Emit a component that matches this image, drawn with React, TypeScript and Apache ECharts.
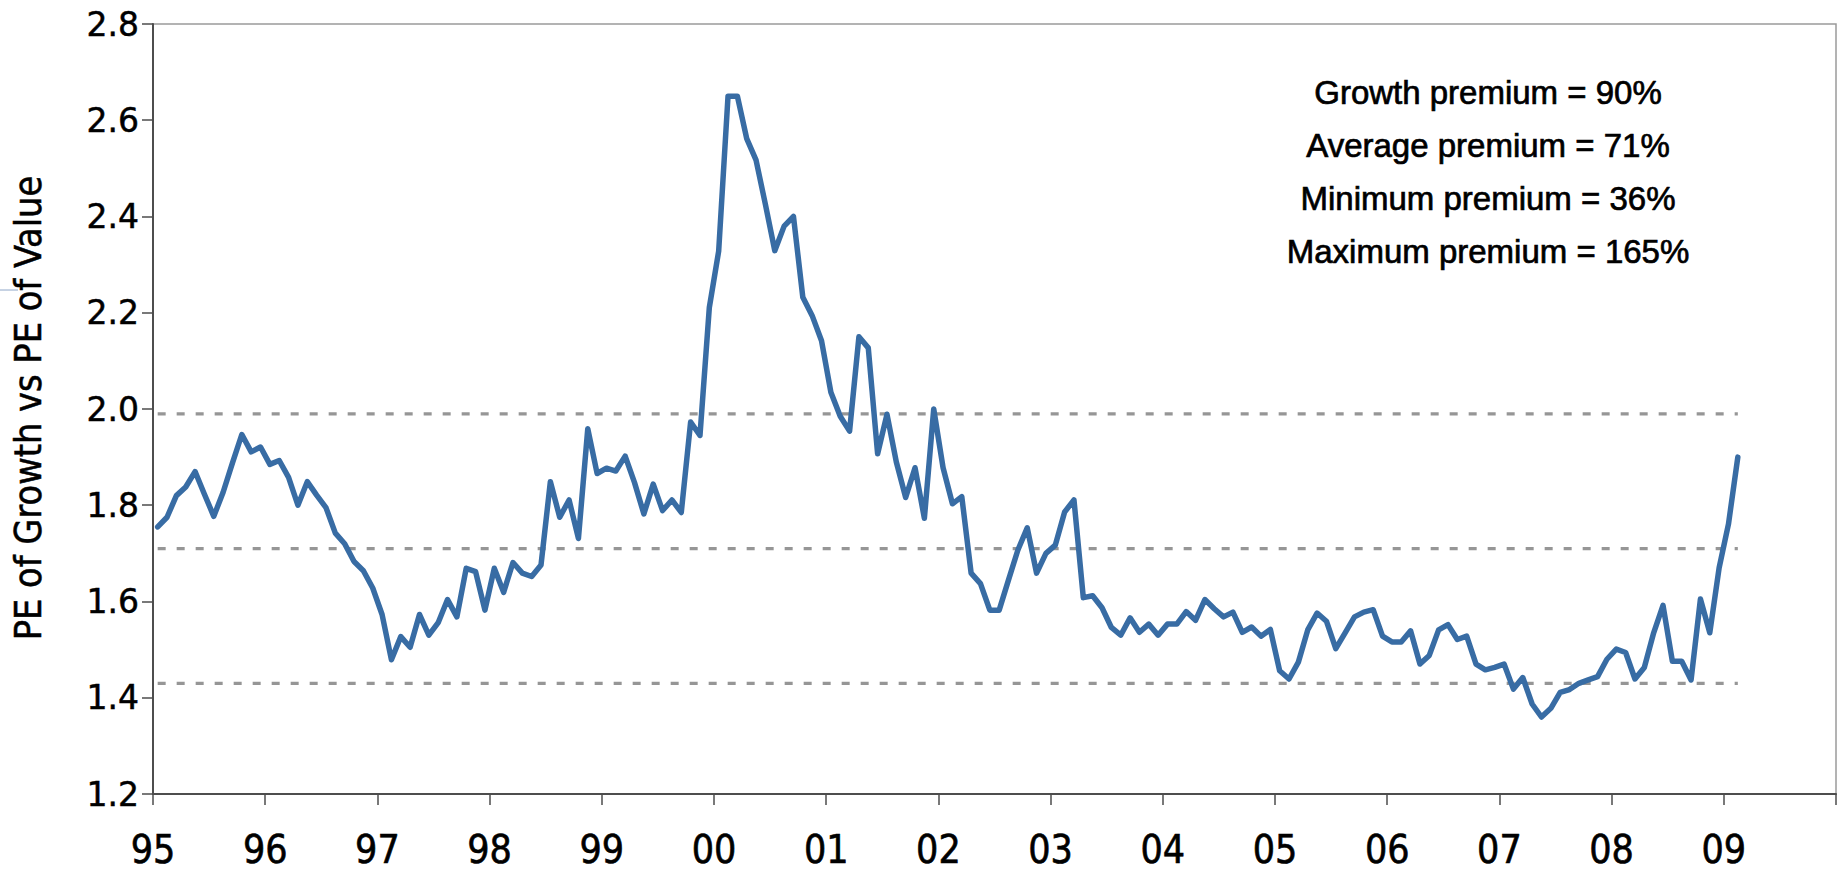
import React, { useEffect, useRef } from "react";
import * as echarts from "echarts";

// Monthly ratio PE(Growth) / PE(Value), Jan 1995 .. Feb 2009
const y1995 = [1.755, 1.775, 1.82, 1.838, 1.87, 1.823, 1.777, 1.827, 1.888, 1.947, 1.911, 1.921];
const y1996 = [1.885, 1.893, 1.858, 1.8, 1.849, 1.821, 1.795, 1.742, 1.72, 1.683, 1.664, 1.628];
const y1997 = [1.573, 1.479, 1.527, 1.505, 1.573, 1.53, 1.556, 1.604, 1.568, 1.669, 1.662, 1.582];
const y1998 = [1.669, 1.619, 1.681, 1.659, 1.652, 1.676, 1.849, 1.775, 1.811, 1.731, 1.959, 1.866];
const y1999 = [1.877, 1.871, 1.902, 1.847, 1.782, 1.844, 1.789, 1.811, 1.785, 1.973, 1.945, 2.211];
const y2000 = [2.328, 2.65, 2.65, 2.562, 2.517, 2.425, 2.329, 2.38, 2.4, 2.232, 2.194, 2.142];
const y2001 = [2.035, 1.985, 1.954, 2.15, 2.127, 1.907, 1.989, 1.89, 1.816, 1.878, 1.773, 2.0];
const y2002 = [1.878, 1.803, 1.818, 1.659, 1.637, 1.582, 1.582, 1.645, 1.707, 1.753, 1.659, 1.7];
const y2003 = [1.717, 1.786, 1.811, 1.608, 1.612, 1.587, 1.546, 1.53, 1.566, 1.536, 1.553, 1.53];
const y2004 = [1.553, 1.553, 1.579, 1.561, 1.604, 1.585, 1.568, 1.578, 1.536, 1.547, 1.528, 1.542];
const y2005 = [1.456, 1.439, 1.474, 1.541, 1.576, 1.559, 1.502, 1.535, 1.568, 1.578, 1.583, 1.528];
const y2006 = [1.516, 1.516, 1.539, 1.47, 1.488, 1.541, 1.552, 1.521, 1.528, 1.47, 1.458, 1.463];
const y2007 = [1.47, 1.418, 1.442, 1.387, 1.36, 1.378, 1.411, 1.417, 1.43, 1.437, 1.444, 1.48];
const y2008 = [1.501, 1.494, 1.439, 1.463, 1.535, 1.592, 1.476, 1.476, 1.437, 1.605, 1.535, 1.67];
const y2009 = [1.761, 1.9];

// Dashed reference levels: average + 1 sd, average, average - 1 sd
const referenceLevels = [1.99, 1.71, 1.43];

const startYear = 1995;
const endYear = 2010;

const yTicks = { min: 1.2, max: 2.8, step: 0.2 };

const yAxisTitle = "PE of Growth vs PE of Value";

const noteLines = [
  "Growth premium = 90%",
  "Average premium = 71%",
  "Minimum premium = 36%",
  "Maximum premium = 165%",
];

const monthly = [
  ...y1995, ...y1996, ...y1997, ...y1998, ...y1999, ...y2000, ...y2001,
  ...y2002, ...y2003, ...y2004, ...y2005, ...y2006, ...y2007, ...y2008, ...y2009,
];

export default function App() {
  const ref = useRef<HTMLDivElement>(null);

  useEffect(() => {
    if (!ref.current) return;
    const chart = echarts.init(ref.current, undefined, { renderer: "svg" });

    // month index centred in its month (x measured in months from Jan 1995)
    const lineData = monthly.map((v, i) => [i + 0.5, v]);
    const firstX = 0.5;
    const lastX = monthly.length - 0.5;
    const totalMonths = (endYear - startYear) * 12;

    const narrow = "'Liberation Sans Narrow', 'DejaVu Sans Condensed', sans-serif";

    const refSeries = referenceLevels.map((lv) => ({
      type: "line",
      data: [
        [firstX, lv],
        [lastX, lv],
      ],
      symbol: "none",
      silent: true,
      lineStyle: { color: "#969696", width: 3.3, type: [8, 11], cap: "butt" },
      z: 2,
    }));

    const option: any = {
      animation: false,
      backgroundColor: "#ffffff",
      grid: {
        left: 153,
        top: 24,
        width: 1683,
        height: 770,
        show: true,
        borderColor: "#9a9a9a",
        borderWidth: 1.5,
        backgroundColor: "transparent",
      },
      xAxis: {
        type: "value",
        min: 0,
        max: totalMonths,
        interval: 12,
        splitLine: { show: false },
        axisLine: { show: true, lineStyle: { color: "#4d4d4d", width: 2 } },
        axisTick: { show: true, inside: false, length: 11, lineStyle: { color: "#4d4d4d", width: 1.5 } },
        axisLabel: {
          show: true,
          margin: 36,
          color: "#000",
          fontFamily: narrow,
          fontSize: 39,
          textBorderColor: "#000",
          textBorderWidth: 0.6,
          formatter: (v: number) => {
            if (v >= totalMonths) return "";
            const yr = (startYear + Math.round(v / 12)) % 100;
            return String(yr).padStart(2, "0");
          },
        },
      },
      yAxis: {
        type: "value",
        min: yTicks.min,
        max: yTicks.max,
        interval: yTicks.step,
        splitLine: { show: false },
        axisLine: { show: true, lineStyle: { color: "#4d4d4d", width: 2 } },
        axisTick: { show: true, inside: false, length: 11, lineStyle: { color: "#4d4d4d", width: 1.5 } },
        axisLabel: {
          margin: 14,
          color: "#000",
          fontFamily: "'DejaVu Sans', sans-serif",
          fontSize: 33,
          textBorderColor: "#000",
          textBorderWidth: 0.5,
          formatter: (v: number) => v.toFixed(1),
        },
      },
      series: [
        ...refSeries,
        {
          type: "line",
          data: lineData,
          symbol: "none",
          smooth: false,
          lineStyle: { color: "#386ca4", width: 5.5, join: "round", cap: "round" },
          z: 5,
        },
      ],
      graphic: [
        {
          type: "text",
          x: 28,
          y: 408,
          rotation: Math.PI / 2,
          style: {
            text: yAxisTitle,
            fill: "#000",
            stroke: "#000",
            lineWidth: 0.5,
            font: "37.5px 'Liberation Sans Narrow', 'DejaVu Sans Condensed', sans-serif",
            textAlign: "center",
            textVerticalAlign: "middle",
          },
        },
        ...noteLines.map((t, k) => ({
          type: "text",
          x: 1488,
          y: 92 + k * 53,
          style: {
            text: t,
            fill: "#000",
            stroke: "#000",
            lineWidth: 0.7,
            font: "33px 'Liberation Sans', Arial, sans-serif",
            textAlign: "center",
            textVerticalAlign: "middle",
          },
        })),
        {
          type: "line",
          shape: { x1: 0, y1: 290, x2: 18, y2: 290 },
          style: { stroke: "#8ea6c8", lineWidth: 1 },
        },
      ],
    };

    chart.setOption(option);
    return () => chart.dispose();
  }, []);

  return (
    <div
      ref={ref}
      style={{ position: "fixed", left: 0, top: 0, width: 1843, height: 872, background: "#fff" }}
    />
  );
}
